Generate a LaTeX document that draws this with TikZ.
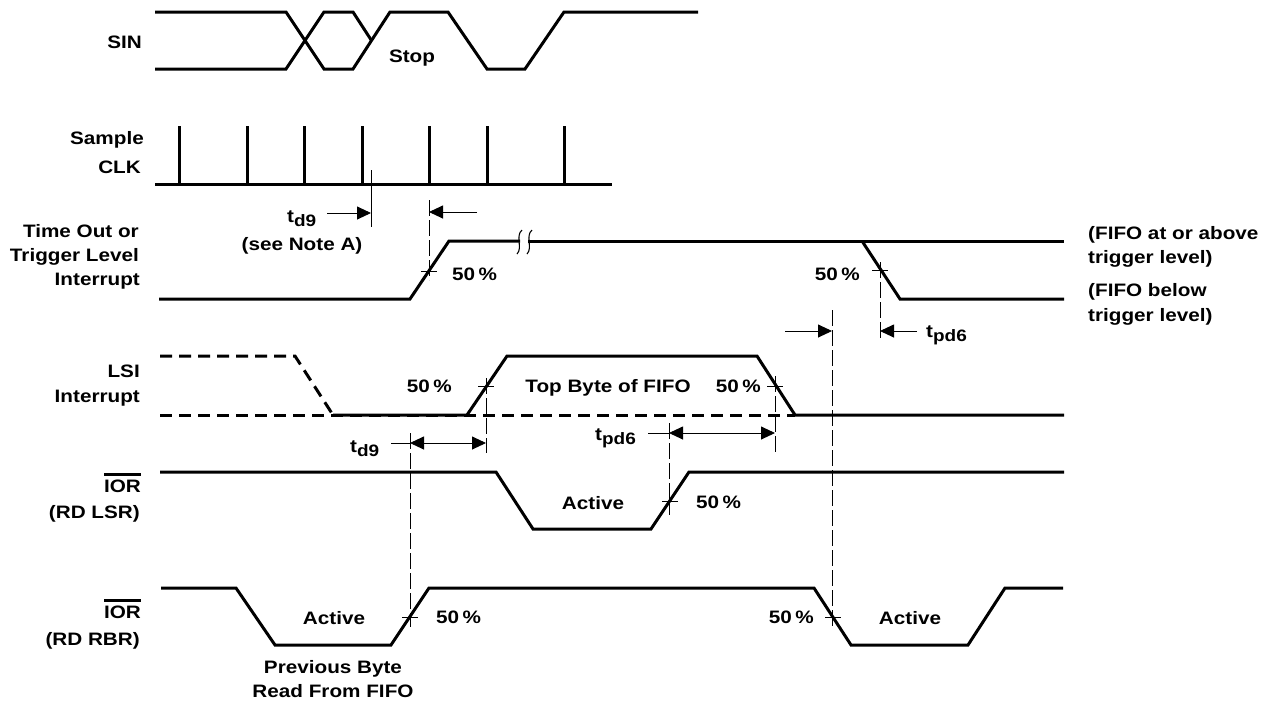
\documentclass[tikz,border=0pt]{standalone}
\usepackage{fontspec}
\usepackage{graphicx}
\setmainfont{Liberation Sans}
\usetikzlibrary{arrows.meta}
\newcommand\lbl[1]{\scalebox{1.15}[1]{#1}}
\newcommand\tsb[2]{#1\raisebox{-4pt}{\fontsize{16.5}{16.5}\selectfont #2}}
\newcommand\ovl[1]{\vbox{\hrule height 2.6pt\kern 3.5pt\hbox{#1}}}
\begin{document}
\begin{tikzpicture}[x=1pt,y=-1pt,
  sig/.style={line width=3pt, line join=miter, line cap=butt},
  dsig/.style={sig, dash pattern=on 12pt off 7pt},
  guide/.style={line width=0.9pt, dash pattern=on 16pt off 4pt},
  fine/.style={line width=0.9pt},
  arr/.style={line width=0.9pt, -{Triangle[length=14pt,width=13pt]}},
  darr/.style={line width=0.9pt, {Triangle[length=14pt,width=13pt]}-{Triangle[length=14pt,width=13pt]}},
  txt/.style={inner sep=0pt, font=\bfseries\fontsize{18}{20}\selectfont}]
\useasboundingbox (0,0) rectangle (1277,702);

% ---------- SIN ----------
\draw[sig] (155,12) -- (286,12) -- (324,69) -- (353,69) -- (390,12) -- (448,12)
  -- (487,69) -- (525,69) -- (564,12) -- (698,12);
\draw[sig] (155,69) -- (286,69) -- (324,12) -- (353,12) -- (371.5,40.5);

% ---------- Sample CLK ----------
\draw[sig] (155,184) -- (612,184);
\foreach \px in {179,247,304,362,429,487,564} \draw[sig] (\px,184) -- (\px,126);

% ---------- Time Out / Trigger Level ----------
\draw[sig] (159,299) -- (410,299) -- (449,241) -- (520,241);
\draw[sig] (528,241) -- (1064,241);
\draw[sig] (862,241) -- (900,299) -- (1064,299);
\draw[line width=1.1pt] (522,230) .. controls (515,236) and (523,248) .. (517,254);
\draw[line width=1.1pt] (532,230) .. controls (525,236) and (533,248) .. (527,254);

% ---------- LSI Interrupt ----------
\draw[dsig] (160,356) -- (295,356) -- (333,415);
\draw[dsig] (160,415) -- (795,415);
\draw[sig] (333,415) -- (467,415) -- (507,356) -- (757,356) -- (795,415) -- (1064,415);

% ---------- IOR (RD LSR) ----------
\draw[sig] (160,472) -- (496,472) -- (533,529) -- (651,529) -- (689,472) -- (1064,472);

% ---------- IOR (RD RBR) ----------
\draw[sig] (161,588) -- (236,588) -- (275,645) -- (391,645) -- (429,588) -- (814,588)
  -- (851,645) -- (968,645) -- (1005,588) -- (1063,588);

% ---------- guide lines ----------
\draw[fine] (371,170) -- (371,227);
\draw[guide] (429,200) -- (429,280);
\draw[guide] (880,262) -- (880,338);
\draw[guide] (832,310) -- (832,627);
\draw[guide] (486,378) -- (486,453);
\draw[guide] (775,376) -- (775,452);
\draw[guide] (669,423) -- (669,515);
\draw[guide] (410,433) -- (410,627);

% 50% ticks
\foreach \cx/\cy in {429/271, 880/270, 486/386, 775/386, 670/501, 410/617, 833/617}
  \draw[fine] (\cx-8,\cy) -- (\cx+8,\cy);

% ---------- arrows ----------
\coordinate (a1s) at (327,213); \coordinate (a1e) at (371,213);
\coordinate (a2s) at (477,212); \coordinate (a2e) at (429,212);
\coordinate (a3s) at (785,331); \coordinate (a3e) at (832,331);
\coordinate (a4s) at (917,331); \coordinate (a4e) at (880,331);
\coordinate (a5s) at (410,443); \coordinate (a5e) at (486,443);
\coordinate (a6s) at (669,433); \coordinate (a6e) at (775,433);
\draw[arr] (a1s) -- (a1e);
\draw[arr] (a2s) -- (a2e);
\draw[arr] (a3s) -- (a3e);
\draw[arr] (a4s) -- (a4e);
\draw[darr] (a5s) -- (a5e);
\draw[darr] (a6s) -- (a6e);
\draw[fine] (391,443) -- (a5s);
\draw[fine] (648,433) -- (a6s);

% ---------- labels ----------
\node[txt, anchor=base east] (sin) at (142,48.5) {\lbl{SIN}};
\node[txt, anchor=base] (stop) at (412,62.5) {\lbl{Stop}};
\node[txt, anchor=base east] (sample) at (144,144) {\lbl{Sample}};
\node[txt, anchor=base east] (clk) at (141,173) {\lbl{CLK}};
\node[txt, anchor=base west] (td9a) at (287,222) {\lbl{\tsb{t}{d9}}};
\node[txt, anchor=base] (note) at (302,250) {\lbl{(see Note A)}};
\node[txt, anchor=base east] (to1) at (139,237) {\lbl{Time Out or}};
\node[txt, anchor=base east] (to2) at (139,261) {\lbl{Trigger Level}};
\node[txt, anchor=base east] (to3) at (140,285) {\lbl{Interrupt}};
\node[txt, anchor=base west] (pa) at (452,280) {\lbl{50\,\%}};
\node[txt, anchor=base east] (pb) at (860,280) {\lbl{50\,\%}};
\node[txt, anchor=base west] (tpd6a) at (926,337) {\lbl{\tsb{t}{pd6}}};
\node[txt, anchor=base west] (f1) at (1088,239.5) {\lbl{(FIFO at or above}};
\node[txt, anchor=base west] (f2) at (1088,263.5) {\lbl{trigger level)}};
\node[txt, anchor=base west] (f3) at (1088,296.5) {\lbl{(FIFO below}};
\node[txt, anchor=base west] (f4) at (1088,321.5) {\lbl{trigger level)}};
\node[txt, anchor=base east] (lsi) at (140,377.5) {\lbl{LSI}};
\node[txt, anchor=base east] (lsi2) at (140,402) {\lbl{Interrupt}};
\node[txt, anchor=base east] (pc) at (452,392.5) {\lbl{50\,\%}};
\node[txt, anchor=base] (top) at (608,392.5) {\lbl{Top Byte of FIFO}};
\node[txt, anchor=base east] (pd) at (761,392.5) {\lbl{50\,\%}};
\node[txt, anchor=base west] (td9b) at (350,452) {\lbl{\tsb{t}{d9}}};
\node[txt, anchor=base west] (tpd6b) at (595,440) {\lbl{\tsb{t}{pd6}}};
\node[txt, anchor=base east] (ior1) at (141,492) {\lbl{\ovl{IOR}}};
\node[txt, anchor=base east] (rdlsr) at (140,518.5) {\lbl{(RD LSR)}};
\node[txt, anchor=base] (act1) at (593,509.5) {\lbl{Active}};
\node[txt, anchor=base west] (pe) at (696,508.5) {\lbl{50\,\%}};
\node[txt, anchor=base east] (ior2) at (141,618) {\lbl{\ovl{IOR}}};
\node[txt, anchor=base east] (rdrbr) at (140,645) {\lbl{(RD RBR)}};
\node[txt, anchor=base] (act2) at (334,624.5) {\lbl{Active}};
\node[txt, anchor=base west] (pf) at (436,623.5) {\lbl{50\,\%}};
\node[txt, anchor=base east] (pg) at (814,623.5) {\lbl{50\,\%}};
\node[txt, anchor=base] (act3) at (910,624.5) {\lbl{Active}};
\node[txt, anchor=base] (prev1) at (333,673.5) {\lbl{Previous Byte}};
\node[txt, anchor=base] (prev2) at (333,697) {\lbl{Read From FIFO}};
\end{tikzpicture}
\end{document}
